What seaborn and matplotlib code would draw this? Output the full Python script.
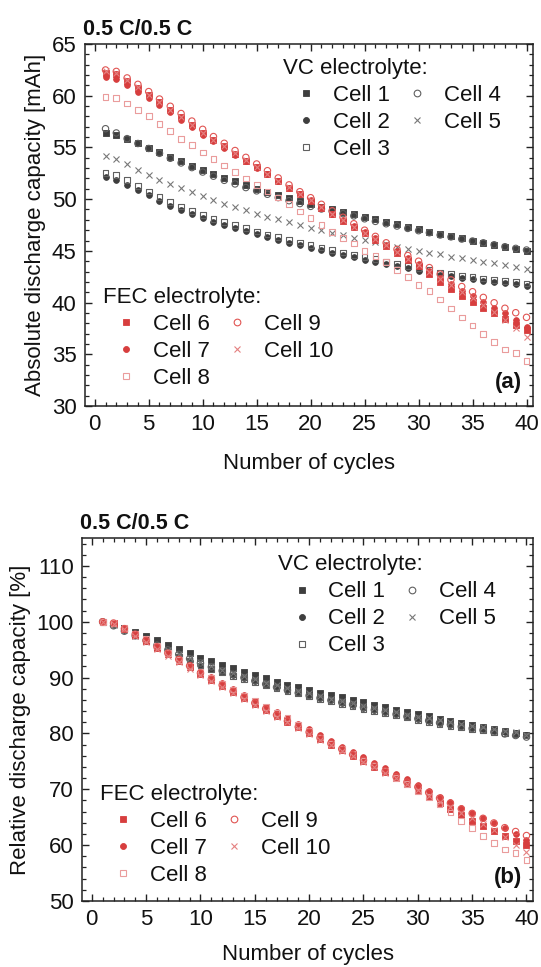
import numpy as np
import pandas as pd
import matplotlib
matplotlib.use("Agg")
import matplotlib.pyplot as plt
import seaborn as sns
from matplotlib.lines import Line2D
from matplotlib.ticker import MultipleLocator

cycles = list(range(1, 41))

cell1 = [56.42, 56.20, 55.78, 55.38, 54.95, 54.55, 54.10, 53.68, 53.25, 52.80,
         52.45, 52.05, 51.72, 51.35, 51.02, 50.70, 50.38, 50.08, 49.80, 49.52,
         49.27, 49.02, 48.78, 48.55, 48.30, 48.05, 47.80, 47.55, 47.32, 47.08,
         46.85, 46.62, 46.42, 46.20, 46.00, 45.80, 45.60, 45.40, 45.20, 45.00]
cell2 = [52.17, 51.85, 51.40, 50.90, 50.40, 49.85, 49.35, 48.95, 48.55, 48.15,
         47.80, 47.50, 47.20, 46.90, 46.60, 46.30, 46.05, 45.80, 45.55, 45.30,
         45.05, 44.82, 44.60, 44.37, 44.12, 43.92, 43.72, 43.52, 43.30, 43.10,
         42.90, 42.70, 42.55, 42.42, 42.27, 42.12, 42.00, 41.85, 41.75, 41.60]
cell3 = [52.56, 52.30, 51.85, 51.30, 50.75, 50.20, 49.75, 49.30, 48.85, 48.45,
         48.10, 47.80, 47.48, 47.18, 46.88, 46.58, 46.32, 46.06, 45.82, 45.57,
         45.32, 45.08, 44.85, 44.63, 44.38, 44.18, 43.97, 43.77, 43.55, 43.32,
         43.12, 42.92, 42.78, 42.60, 42.45, 42.33, 42.20, 42.08, 41.97, 41.85]
cell4 = [56.81, 56.40, 55.85, 55.38, 54.90, 54.43, 53.95, 53.50, 53.05, 52.62,
         52.22, 51.82, 51.47, 51.12, 50.80, 50.47, 50.15, 49.85, 49.57, 49.30,
         49.05, 48.82, 48.60, 48.38, 48.10, 47.85, 47.62, 47.40, 47.17, 46.95,
         46.75, 46.53, 46.35, 46.14, 45.95, 45.78, 45.59, 45.40, 45.24, 45.08]
cell5 = [54.20, 53.92, 53.38, 52.85, 52.35, 51.88, 51.46, 51.05, 50.66, 50.27,
         49.91, 49.55, 49.22, 48.92, 48.60, 48.30, 48.05, 47.77, 47.52, 47.25,
         46.98, 46.72, 46.50, 46.27, 46.05, 45.85, 45.62, 45.40, 45.20, 45.00,
         44.82, 44.66, 44.45, 44.28, 44.11, 43.95, 43.79, 43.63, 43.46, 43.25]
cell6 = [62.23, 62.10, 61.40, 60.75, 60.05, 59.35, 58.60, 57.90, 57.20, 56.40,
         55.75, 55.10, 54.40, 53.72, 53.10, 52.45, 51.78, 51.10, 50.50, 49.85,
         49.15, 48.55, 47.90, 47.30, 46.70, 46.05, 45.45, 44.80, 44.15, 43.50,
         42.75, 42.00, 41.35, 40.65, 40.05, 39.50, 38.95, 38.40, 37.85, 37.30]
cell7 = [61.78, 61.65, 61.05, 60.40, 59.75, 59.10, 58.38, 57.68, 57.00, 56.25,
         55.62, 54.98, 54.30, 53.65, 53.02, 52.40, 51.75, 51.10, 50.50, 49.88,
         49.20, 48.60, 47.98, 47.38, 46.80, 46.20, 45.60, 44.98, 44.35, 43.72,
         43.05, 42.40, 41.80, 41.15, 40.60, 40.05, 39.50, 38.95, 38.30, 37.60]
cell8 = [59.91, 59.75, 59.26, 58.65, 58.04, 57.30, 56.57, 55.83, 55.20, 54.52,
         53.91, 53.25, 52.63, 52.00, 51.38, 50.75, 50.15, 49.55, 48.80, 48.20,
         47.50, 46.85, 46.27, 45.72, 45.02, 44.50, 43.95, 43.15, 42.50, 41.70,
         41.14, 40.31, 39.44, 38.56, 37.79, 36.95, 36.21, 35.47, 35.10, 34.37]
cell9 = [62.49, 62.35, 61.72, 61.10, 60.40, 59.68, 58.98, 58.28, 57.55, 56.75,
         56.05, 55.40, 54.70, 54.04, 53.40, 52.75, 52.05, 51.38, 50.72, 50.14,
         49.50, 48.88, 48.25, 47.62, 47.00, 46.40, 45.78, 45.15, 44.55, 44.00,
         43.38, 42.75, 42.20, 41.55, 41.05, 40.50, 39.98, 39.45, 39.02, 38.57]
cell10 = [62.40, 62.20, 61.55, 60.85, 60.10, 59.35, 58.60, 57.90, 57.15, 56.40,
          55.75, 55.10, 54.42, 53.75, 53.10, 52.45, 51.80, 51.15, 50.50, 49.88,
          49.22, 48.60, 47.98, 47.35, 46.75, 46.15, 45.52, 44.90, 44.25, 43.60,
          42.95, 42.30, 41.70, 41.05, 40.45, 39.75, 39.10, 38.35, 37.50, 36.70]

cell_names = ["Cell 1", "Cell 2", "Cell 3", "Cell 4", "Cell 5",
              "Cell 6", "Cell 7", "Cell 8", "Cell 9", "Cell 10"]
cell_values = [cell1, cell2, cell3, cell4, cell5, cell6, cell7, cell8, cell9, cell10]

yticks_abs = [30, 35, 40, 45, 50, 55, 60, 65]
yticks_rel = [50, 60, 70, 80, 90, 100, 110]
xticks = [0, 5, 10, 15, 20, 25, 30, 35, 40]

rows = []
for name, vals in zip(cell_names, cell_values):
    for c, v in zip(cycles, vals):
        rows.append({"cell": name, "cycle": c, "abs": v, "rel": 100.0 * v / vals[0]})
df = pd.DataFrame(rows)

DARK = "#3e3e3e"
GREY = "#606060"
GREYX = "#787878"
RED = "#d73e3e"
REDC = "#e15553"
PINK = "#ea9c9c"
REDX = "#e48080"
# (marker, face, edge, scatter size, linewidth, legend markersize)
styles = {
    "Cell 1": ("s", DARK, DARK, 15, 0.6, 4.0),
    "Cell 2": ("o", DARK, DARK, 17, 0.6, 4.3),
    "Cell 3": ("s", "none", GREY, 17, 0.8, 4.3),
    "Cell 4": ("o", "none", GREY, 21, 0.8, 4.8),
    "Cell 5": ("x", None, GREYX, 19, 0.8, 4.8),
    "Cell 6": ("s", RED, RED, 15, 0.6, 4.0),
    "Cell 7": ("o", RED, RED, 17, 0.6, 4.3),
    "Cell 8": ("s", "none", PINK, 17, 0.8, 4.3),
    "Cell 9": ("o", "none", REDC, 21, 0.8, 4.8),
    "Cell 10": ("x", None, REDX, 19, 0.8, 4.8),
}

sns.set_theme(style="white")
plt.rcParams["font.family"] = ["Liberation Sans", "DejaVu Sans"]
FS = 16

fig = plt.figure(figsize=(5.41, 9.67), dpi=100)
W, H = 541.0, 967.0
ax1 = fig.add_axes([85 / W, 1 - 406 / H, 448 / W, 362 / H])
ax2 = fig.add_axes([82 / W, 1 - 901 / H, 451 / W, 363 / H])


def draw(ax, ycol):
    for name in cell_names:
        m, fc, ec, s, lw, _ = styles[name]
        sub = df[df["cell"] == name]
        if m == "x":
            sns.scatterplot(data=sub, x="cycle", y=ycol, ax=ax, marker=m, s=s,
                            color=ec, linewidth=lw, legend=False, zorder=3)
        else:
            sns.scatterplot(data=sub, x="cycle", y=ycol, ax=ax, marker=m, s=s,
                            color=ec, facecolor=fc, edgecolor=ec, linewidth=lw,
                            legend=False, zorder=3)


def legend_handles(names):
    hs = []
    for name in names:
        m, fc, ec, s, lw, ms = styles[name]
        if m == "x":
            hs.append(Line2D([], [], linestyle="none", marker=m, markersize=ms,
                             color=ec, markeredgewidth=lw))
        else:
            hs.append(Line2D([], [], linestyle="none", marker=m, markersize=ms,
                             markerfacecolor=fc, markeredgecolor=ec, markeredgewidth=lw))
    return hs


def add_legends(ax, vc_anchor, fec_anchor):
    common = dict(ncol=2, frameon=False, loc="upper left", fontsize=FS,
                  title_fontsize=FS, alignment="left", handlelength=2.1,
                  handletextpad=0.15, columnspacing=0.17, labelspacing=0.27,
                  borderpad=0, borderaxespad=0)
    leg1 = ax.legend(legend_handles(cell_names[:5]), cell_names[:5],
                     title="VC electrolyte:", bbox_to_anchor=vc_anchor, **common)
    ax.add_artist(leg1)
    leg2 = ax.legend(legend_handles(cell_names[5:]), cell_names[5:],
                     title="FEC electrolyte:", bbox_to_anchor=fec_anchor, **common)
    for lg in (leg1, leg2):
        lg.get_title().set_color("#111111")
        for t in lg.get_texts():
            t.set_color("#111111")


def style_axes(ax, ylim, yticks, yminor, ylabel, tag, xpad):
    ax.set_xlim(-0.9, 40.6)
    ax.set_ylim(*ylim)
    ax.set_xticks(xticks)
    ax.set_yticks(yticks)
    ax.xaxis.set_minor_locator(MultipleLocator(1))
    ax.yaxis.set_minor_locator(MultipleLocator(yminor))
    ax.tick_params(which="both", direction="in", top=True, right=True,
                   bottom=True, left=True, colors="#222222", labelcolor="#111111")
    ax.tick_params(which="major", length=5, width=1.0, labelsize=FS, pad=6)
    ax.tick_params(which="minor", length=2.8, width=0.9)
    for sp in ax.spines.values():
        sp.set_color("#222222")
        sp.set_linewidth(1.1)
    ax.set_xlabel("Number of cycles", fontsize=FS, color="#111111", labelpad=xpad)
    ax.set_ylabel(ylabel, fontsize=FS, color="#111111", labelpad=4)
    ax.text(0.975, 0.035, tag, transform=ax.transAxes, ha="right", va="bottom",
            fontsize=FS, fontweight="bold", color="#111111")
    ax.text(-0.004, 1.012, "0.5 C/0.5 C", transform=ax.transAxes, ha="left",
            va="bottom", fontsize=15.5, fontweight="bold", color="#111111")


draw(ax1, "abs")
draw(ax2, "rel")
style_axes(ax1, (30, 65), yticks_abs, 1, "Absolute discharge capacity [mAh]", "(a)", 13)
style_axes(ax2, (50, 115), yticks_rel, 2, "Relative discharge capacity [%]", "(b)", 10)
add_legends(ax1, (0.442, 0.962), (0.04, 0.328))
add_legends(ax2, (0.435, 0.955), (0.04, 0.323))

fig.savefig("out.png", dpi=100)
